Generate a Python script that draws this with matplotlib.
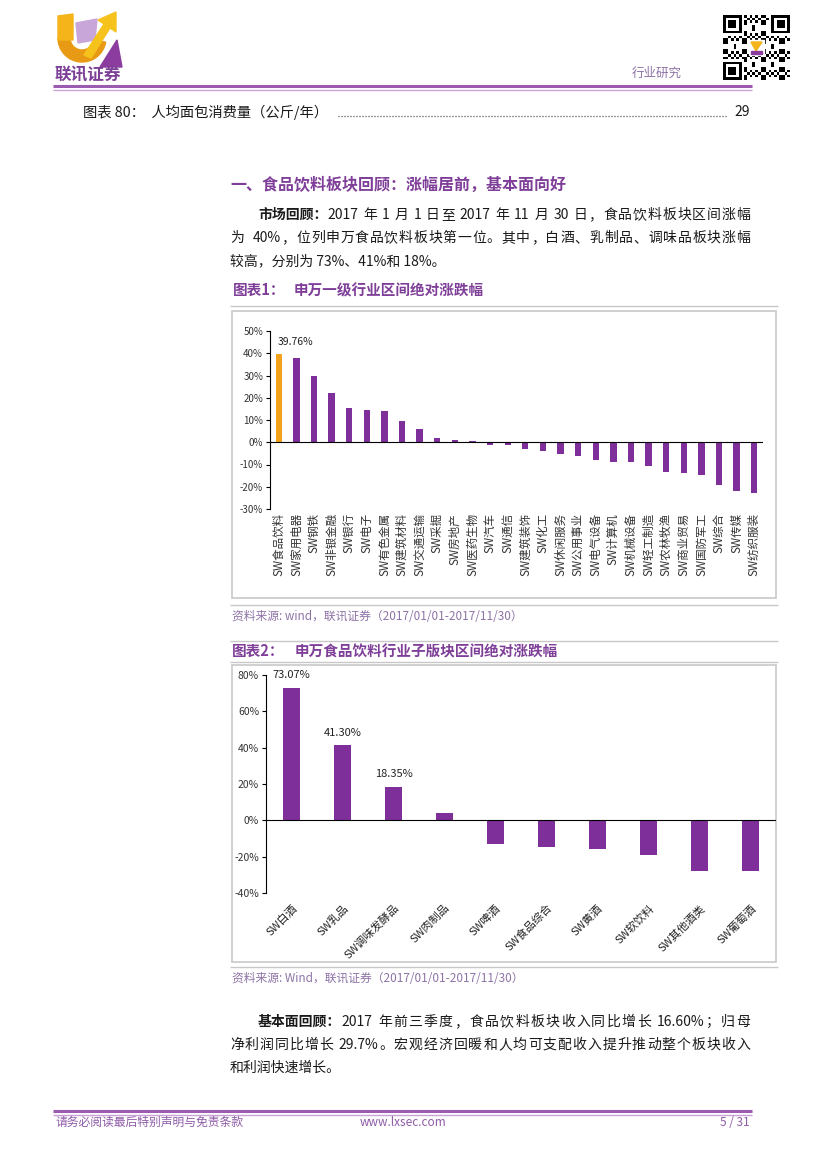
import re
import numpy as np
import matplotlib
matplotlib.use("Agg")
import matplotlib.pyplot as plt
from matplotlib.patches import Polygon, Rectangle, Wedge
from matplotlib.font_manager import FontProperties

plt.rcParams['font.family'] = ['Noto Sans CJK SC', 'DejaVu Sans']

W, H = 827, 1170

# 图表1：申万一级行业区间绝对涨跌幅 (%)
industries = ["SW食品饮料", "SW家用电器", "SW钢铁", "SW非银金融", "SW银行", "SW电子",
              "SW有色金属", "SW建筑材料", "SW交通运输", "SW采掘", "SW房地产", "SW医药生物",
              "SW汽车", "SW通信", "SW建筑装饰", "SW化工", "SW休闲服务", "SW公用事业",
              "SW电气设备", "SW计算机", "SW机械设备", "SW轻工制造", "SW农林牧渔", "SW商业贸易",
              "SW国防军工", "SW综合", "SW传媒", "SW纺织服装"]
industry_chg = [39.76, 37.8, 29.8, 22.3, 15.3, 14.5, 14.1, 9.7, 6.0, 1.8, 1.2, 0.75,
                -1.2, -1.2, -3.0, -4.0, -5.4, -6.4, -8.2, -8.7, -9.1, -10.6, -13.5, -13.9,
                -14.8, -19.0, -21.9, -22.8]
y1_ticks = [-30, -20, -10, 0, 10, 20, 30, 40, 50]

# 图表2：申万食品饮料行业子版块区间绝对涨跌幅 (%)
sub_sectors = ["SW白酒", "SW乳品", "SW调味发酵品", "SW肉制品", "SW啤酒", "SW食品综合",
               "SW黄酒", "SW软饮料", "SW其他酒类", "SW葡萄酒"]
sub_chg = [73.07, 41.30, 18.35, 4.2, -12.9, -14.7, -15.7, -19.2, -28.1, -28.1]
sub_labels = {0: "73.07%", 1: "41.30%", 2: "18.35%"}
y2_ticks = [-40, -20, 0, 20, 40, 60, 80]

PURPLE = '#7E2F99'
ORANGE = '#F3A21B'
TITLE = '#7F3F98'
SRC = '#8E73A6'
GRAY = '#C8C8C8'
TEXT = '#1A1A1A'

fig = plt.figure(figsize=(W / 100, H / 100), dpi=100)
page = fig.add_axes([0, 0, 1, 1])
page.set_xlim(0, W)
page.set_ylim(H, 0)
page.axis('off')
renderer = fig.canvas.get_renderer()


def rect(x0, y0, x1, y1):
    return [x0 / W, 1 - y1 / H, (x1 - x0) / W, (y1 - y0) / H]


def put(x, y, s, size=10, color=TEXT, weight='normal', ha='left'):
    return page.text(x, y, s, fontsize=size, color=color, fontweight=weight,
                     ha=ha, va='center')


def width(s, size, weight='normal'):
    prop = FontProperties(family=plt.rcParams['font.family'], size=size, weight=weight)
    w, _, _ = renderer.get_text_width_height_descent(s, prop, ismath=False)
    return w


def justify(s, x0, x1, y, size=10, color=TEXT):
    tokens = re.findall(r'[A-Za-z0-9.%]+|.', s)
    ws = [width(t, size) for t in tokens]
    gap = (x1 - x0 - sum(ws)) / max(len(tokens) - 1, 1)
    x = x0
    for t, w in zip(tokens, ws):
        if t != ' ':
            put(x, y, t, size, color)
        x += w + gap


def hline(y, x0, x1, color=GRAY, lw=1.0):
    page.plot([x0, x1], [y, y], color=color, lw=lw, solid_capstyle='butt')


# ---- 页眉 ----
page.add_patch(Wedge((82, 38), 24, 10, 180, width=12, color='#E99A14'))
page.add_patch(Polygon([(58, 16), (73, 14), (73, 40), (58, 40)], color='#F4B41A'))
page.add_patch(Polygon([(76, 23), (97, 19), (95, 40), (78, 43)], color='#C9A6D9'))
page.add_patch(Polygon([(84, 55), (104, 24), (98, 20), (116, 12), (116, 32), (110, 28), (91, 58)],
                       color='#F6C21C'))
page.add_patch(Polygon([(100, 67), (122, 67), (117, 40)], color='#8B3C9E'))
put(55, 75, "联讯证券", size=12, color='#7B3F96', weight='bold')

n = 25
qr = np.zeros((n, n))
for i in range(n):
    for j in range(n):
        qr[i, j] = ((i * i * 3 + j * j * 5 + i * j * 7 + i + 2 * j) % 7) < 3
for r, c in [(0, 0), (0, n - 7), (n - 7, 0)]:
    qr[max(r - 1, 0):r + 8, max(c - 1, 0):c + 8] = 0
    qr[r:r + 7, c:c + 7] = 1
    qr[r + 1:r + 6, c + 1:c + 6] = 0
    qr[r + 2:r + 5, c + 2:c + 5] = 1
page.imshow(1 - qr, cmap='gray', extent=(723, 790, 80, 15), interpolation='nearest',
            aspect='auto', zorder=1)
page.add_patch(Rectangle((749, 40), 15, 15, color='white', zorder=2))
page.add_patch(Polygon([(751, 42), (762, 42), (756, 51)], color='#F4B41A', zorder=3))
page.add_patch(Rectangle((751, 51), 11, 2.5, color='#8B3C9E', zorder=3))

put(632, 73, "行业研究", size=9, color='#8E73A6')
hline(86, 53, 752, color='#9A5BB0', lw=2.2)
hline(89.5, 53, 752, color='#C7A3D6', lw=1.0)

put(83, 112, "图表 80：  人均面包消费量（公斤/年）", size=10.3)
page.plot([338, 727], [116, 116], color='#333333', lw=0.9, linestyle=(0, (0.8, 1.6)))
put(750, 112, "29", size=10, ha='right')

# ---- 正文 ----
put(230, 185, "一、食品饮料板块回顾：涨幅居前，基本面向好", size=11.5, color=TITLE, weight='bold')
bold = "市场回顾："
put(258, 215, bold, size=10, weight='bold')
justify("2017 年 1 月 1 日至 2017 年 11 月 30 日，食品饮料板块区间涨幅",
        258 + width(bold, 10, 'bold'), 750, 215)
justify("为  40%，位列申万食品饮料板块第一位。其中，白酒、乳制品、调味品板块涨幅", 230, 750, 238)
put(230, 261, "较高，分别为 73%、41%和 18%。", size=10)

# ---- 图表1 ----
put(233, 290, "图表1：", size=10.5, color=TITLE, weight='bold')
put(294, 290, "申万一级行业区间绝对涨跌幅", size=10.5, color=TITLE, weight='bold')
hline(306, 230, 778)
page.add_patch(Rectangle((232, 311), 544, 287, fill=False, edgecolor=GRAY, lw=1.2))
hline(605, 230, 778)
put(232, 617, "资料来源: wind，联讯证券（2017/01/01-2017/11/30）", size=8.5, color=SRC)

ax1 = fig.add_axes(rect(270, 331, 763, 509))
ax1.set_facecolor('none')
x1 = np.arange(len(industries))
colors1 = [ORANGE] + [PURPLE] * (len(industries) - 1)
ax1.bar(x1, industry_chg, width=0.36, color=colors1, zorder=2)
ax1.axhline(0, color='black', lw=0.8, zorder=3)
ax1.set_xlim(-0.5, len(industries) - 0.5)
ax1.set_ylim(min(y1_ticks), max(y1_ticks))
ax1.set_yticks(y1_ticks)
ax1.set_yticklabels([f"{v}%" for v in y1_ticks], fontsize=7, color='#333333')
ax1.set_xticks(x1)
ax1.set_xticklabels(industries, rotation=90, fontsize=8.3, color='#333333')
ax1.tick_params(axis='x', length=0, pad=3)
ax1.tick_params(axis='y', length=3, width=0.8, pad=2)
for s in ['top', 'right', 'bottom']:
    ax1.spines[s].set_visible(False)
ax1.spines['left'].set_linewidth(0.8)
ax1.annotate(f"{industry_chg[0]:.2f}%", xy=(x1[0], industry_chg[0]), xytext=(12, 8.5),
             textcoords='offset points', ha='center', va='center', fontsize=7.5, color='#222222')

# ---- 图表2 ----
hline(641, 230, 778)
put(232, 651, "图表2：", size=10.5, color=TITLE, weight='bold')
put(295, 651, "申万食品饮料行业子版块区间绝对涨跌幅", size=10.5, color=TITLE, weight='bold')
hline(662, 230, 778)
page.add_patch(Rectangle((232, 665), 544, 297, fill=False, edgecolor=GRAY, lw=1.2))
hline(967, 230, 778)
put(232, 978, "资料来源: Wind，联讯证券（2017/01/01-2017/11/30）", size=8.5, color=SRC)

ax2 = fig.add_axes(rect(266, 675, 776, 893))
ax2.set_facecolor('none')
x2 = np.arange(len(sub_sectors))
ax2.bar(x2, sub_chg, width=0.33, color=PURPLE, zorder=2)
ax2.axhline(0, color='black', lw=0.8, zorder=3)
ax2.set_xlim(-0.5, len(sub_sectors) - 0.5)
ax2.set_ylim(min(y2_ticks), max(y2_ticks))
ax2.set_yticks(y2_ticks)
ax2.set_yticklabels([f"{v}%" for v in y2_ticks], fontsize=7.5, color='#333333')
ax2.set_xticks(x2)
ax2.set_xticklabels(sub_sectors, rotation=45, ha='right', rotation_mode='anchor',
                    fontsize=8, color='#222222')
ax2.tick_params(axis='x', length=0, pad=7)
ax2.tick_params(axis='y', length=3, width=0.8, pad=2)
for s in ['top', 'right', 'bottom']:
    ax2.spines[s].set_visible(False)
ax2.spines['left'].set_linewidth(0.8)
for i, lab in sub_labels.items():
    ax2.annotate(lab, xy=(x2[i], sub_chg[i]), xytext=(0, 9), textcoords='offset points',
                 ha='center', va='center', fontsize=8, color='#222222')

# ---- 正文2 ----
bold2 = "基本面回顾："
put(258, 1022, bold2, size=10, weight='bold')
justify("2017 年前三季度，食品饮料板块收入同比增长 16.60%；归母",
        258 + width(bold2, 10, 'bold'), 750, 1022)
justify("净利润同比增长 29.7%。宏观经济回暖和人均可支配收入提升推动整个板块收入", 230, 750, 1045)
put(230, 1068, "和利润快速增长。", size=10)

# ---- 页脚 ----
hline(1111, 53, 752, color='#9A5BB0', lw=2.2)
hline(1114.5, 53, 752, color='#C7A3D6', lw=1.0)
put(55, 1122, "请务必阅读最后特别声明与免责条款", size=8.5, color='#8E5BA8')
put(360, 1122, "www.lxsec.com", size=8.5, color='#8E5BA8')
put(750, 1122, "5 / 31", size=8.5, color='#8E5BA8', ha='right')

page.set_xlim(0, W)
page.set_ylim(H, 0)
fig.savefig("out.png", dpi=100)
